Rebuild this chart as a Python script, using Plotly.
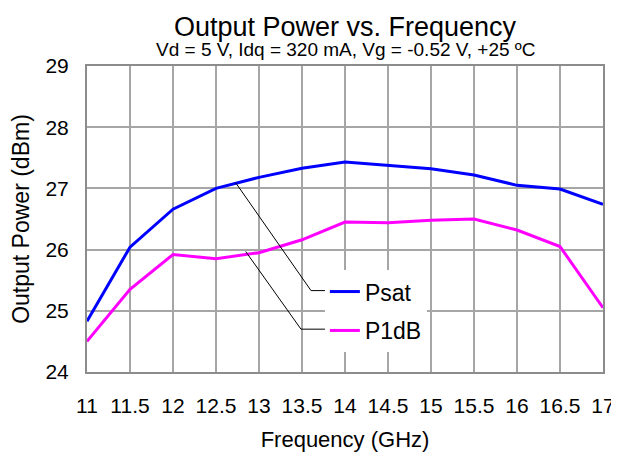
import plotly.graph_objects as go

freq = [11, 11.5, 12, 12.5, 13, 13.5, 14, 14.5, 15, 15.5, 16, 16.5, 17]
psat = [24.83, 26.04, 26.66, 27.00, 27.18, 27.33, 27.43, 27.37, 27.32, 27.22, 27.05, 26.99, 26.74]
p1db = [24.50, 25.35, 25.92, 25.85, 25.95, 26.16, 26.45, 26.44, 26.48, 26.50, 26.32, 26.05, 25.05]
x_ticks = [11, 11.5, 12, 12.5, 13, 13.5, 14, 14.5, 15, 15.5, 16, 16.5, 17]
y_ticks = [24, 25, 26, 27, 28, 29]

FONT = "Arial, Liberation Sans, sans-serif"

fig = go.Figure()
fig.add_trace(go.Scatter(x=freq, y=psat, mode="lines", name="Psat",
                         line=dict(color="#0000ff", width=3), legendgroup="a"))
fig.add_trace(go.Scatter(x=freq, y=p1db, mode="lines", name="P1dB",
                         line=dict(color="#ff00ff", width=3), legendgroup="b"))

# leader lines from curves to legend entries
leaders = [
    [(12.73, 27.09), (13.605, 25.33), (13.767, 25.33)],
    [(12.845, 25.97), (13.488, 24.70), (13.767, 24.70)],
]
for pts in leaders:
    path = "M " + " L ".join(f"{x},{y}" for x, y in pts)
    fig.add_shape(type="path", path=path, xref="x", yref="y",
                  line=dict(color="black", width=1))

fig.add_annotation(text="Vd = 5 V, Idq = 320 mA, Vg = -0.52 V, +25 ºC",
                   xref="paper", yref="paper", x=0.5, y=1, yshift=17,
                   xanchor="center", yanchor="middle",
                   showarrow=False, font=dict(size=19, color="black", family=FONT))

fig.update_layout(
    width=611, height=447,
    margin=dict(l=79, r=16, t=58, b=83, autoexpand=False),
    paper_bgcolor="white", plot_bgcolor="white",
    font=dict(family=FONT, color="black"),
    title=dict(text="Output Power vs. Frequency", x=0.5, xanchor="center",
               xref="paper", y=1, yref="paper", yanchor="bottom",
               pad=dict(b=30),
               font=dict(size=27, color="black", family=FONT)),
    showlegend=True,
    legend=dict(x=0.461, y=0.333, xanchor="left", yanchor="top",
                bgcolor="white", borderwidth=0, tracegroupgap=6,
                font=dict(size=23, color="black", family=FONT)),
    xaxis=dict(range=[11, 17], tickvals=x_ticks, ticktext=[f"{v:g}" for v in x_ticks],
               showgrid=True, gridcolor="#a6a6a6", gridwidth=1.5,
               showline=True, linecolor="#8c8c8c", linewidth=2, mirror=True,
               ticks="", ticklabelstandoff=14, automargin=False,
               tickfont=dict(size=21), zeroline=False,
               title=dict(text="Frequency (GHz)", font=dict(size=22), standoff=15)),
    yaxis=dict(range=[24, 29], tickvals=y_ticks,
               showgrid=True, gridcolor="#a6a6a6", gridwidth=1.5,
               showline=True, linecolor="#8c8c8c", linewidth=2, mirror=True,
               ticks="", ticklabelstandoff=12, automargin=False,
               tickfont=dict(size=21), zeroline=False,
               title=dict(text="Output Power (dBm)", font=dict(size=23), standoff=10)),
)

fig.write_html("out.html")
